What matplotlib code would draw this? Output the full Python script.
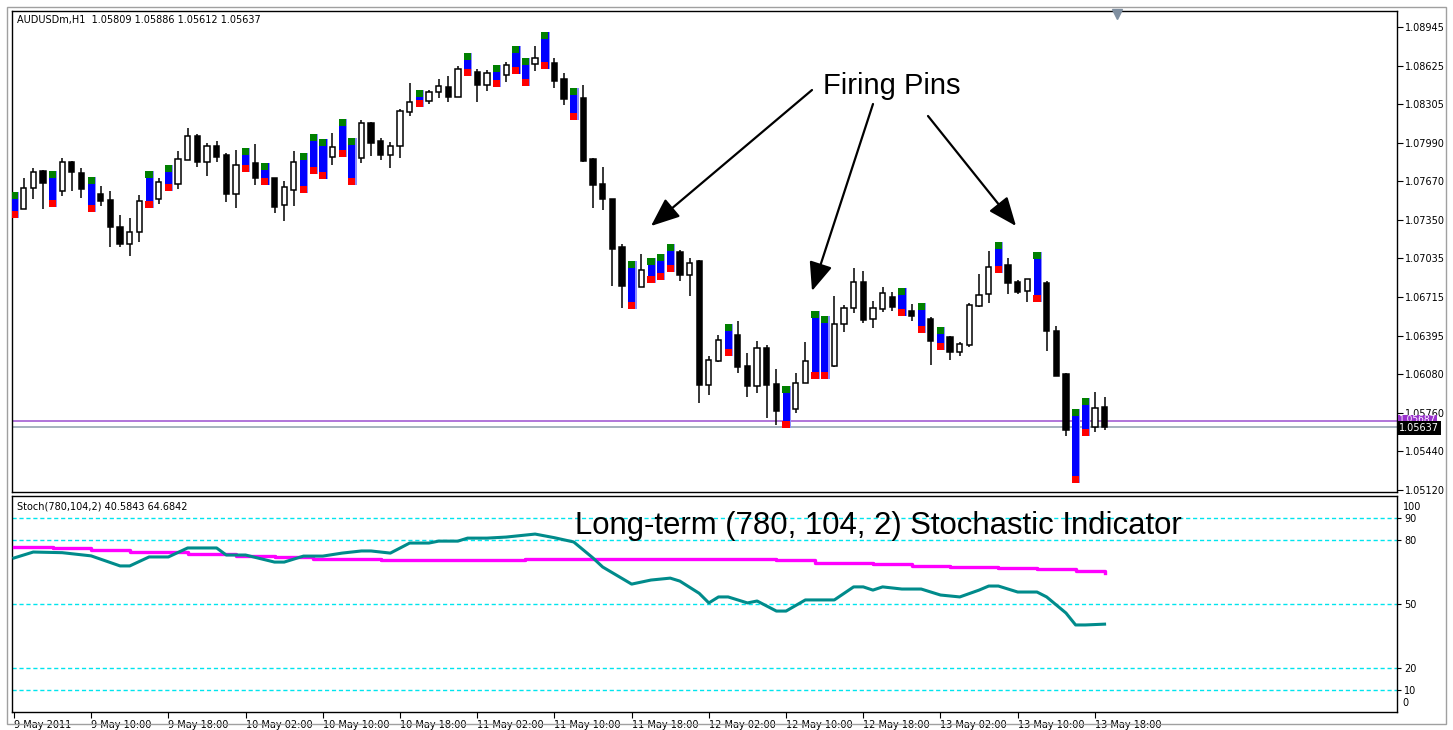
import matplotlib
matplotlib.use('Agg')
import matplotlib.pyplot as plt
import matplotlib.transforms as mtransforms
from matplotlib.patches import Rectangle

# ---- candles (AUDUSDm, H1), bar 0 = 9 May 2011 02:00 ----
opens = [1.07367, 1.07442, 1.07615, 1.07756, 1.07458, 1.07590, 1.07830, 1.07739, 1.07417, 1.07566,
         1.07516, 1.07293, 1.07153, 1.07252, 1.07450, 1.07524, 1.07590, 1.07648, 1.07846, 1.08045,
         1.07830, 1.07962, 1.07888, 1.07566, 1.07747, 1.07822, 1.07640, 1.07698, 1.07475, 1.07599,
         1.07574, 1.07731, 1.07689, 1.07871, 1.07871, 1.07640, 1.07863, 1.08152, 1.08003, 1.07888,
         1.07962, 1.08243, 1.08284, 1.08334, 1.08408, 1.08449, 1.08367, 1.08540, 1.08573, 1.08466,
         1.08449, 1.08548, 1.08557, 1.08458, 1.08639, 1.08598, 1.08648, 1.08515, 1.08177, 1.08359,
         1.07855, 1.07648, 1.07524, 1.07128, 1.06616, 1.06797, 1.06830, 1.06855, 1.06921, 1.07086,
         1.06896, 1.07012, 1.05988, 1.06186, 1.06227, 1.06401, 1.06145, 1.05980, 1.06294, 1.05996,
         1.05633, 1.05790, 1.06004, 1.06037, 1.06037, 1.06145, 1.06492, 1.06624, 1.06839, 1.06533,
         1.06616, 1.06715, 1.06558, 1.06599, 1.06417, 1.06533, 1.06277, 1.06384, 1.06260, 1.06318,
         1.06640, 1.06740, 1.06913, 1.06979, 1.06839, 1.06764, 1.06673, 1.06830, 1.06434, 1.06079,
         1.05178, 1.05567, 1.05641, 1.05809]
highs = [1.07582, 1.07698, 1.07780, 1.07764, 1.07756, 1.07863, 1.07838, 1.07780, 1.07706, 1.07632,
         1.07590, 1.07392, 1.07367, 1.07557, 1.07756, 1.07698, 1.07805, 1.07921, 1.08111, 1.08061,
         1.07987, 1.08003, 1.07904, 1.07929, 1.07946, 1.07979, 1.07822, 1.07698, 1.07673, 1.07921,
         1.07904, 1.08061, 1.08020, 1.08069, 1.08185, 1.08028, 1.08177, 1.08160, 1.08028, 1.07995,
         1.08268, 1.08482, 1.08425, 1.08425, 1.08515, 1.08540, 1.08623, 1.08730, 1.08598, 1.08590,
         1.08631, 1.08656, 1.08788, 1.08689, 1.08788, 1.08904, 1.08689, 1.08565, 1.08441, 1.08466,
         1.07863, 1.07789, 1.07524, 1.07153, 1.07012, 1.07070, 1.07037, 1.07070, 1.07153, 1.07103,
         1.07037, 1.07020, 1.06227, 1.06401, 1.06492, 1.06517, 1.06252, 1.06351, 1.06318, 1.06120,
         1.05980, 1.06087, 1.06343, 1.06599, 1.06558, 1.06723, 1.06649, 1.06954, 1.06930, 1.06682,
         1.06797, 1.06756, 1.06789, 1.06657, 1.06665, 1.06550, 1.06467, 1.06393, 1.06343, 1.06665,
         1.06905, 1.07095, 1.07169, 1.07037, 1.06855, 1.06863, 1.07086, 1.06847, 1.06475, 1.06087,
         1.05790, 1.05881, 1.05930, 1.05886]
lows = [1.07367, 1.07442, 1.07524, 1.07442, 1.07458, 1.07549, 1.07590, 1.07533, 1.07417, 1.07466,
        1.07128, 1.07128, 1.07053, 1.07169, 1.07450, 1.07483, 1.07590, 1.07607, 1.07846, 1.07789,
        1.07714, 1.07830, 1.07499, 1.07450, 1.07747, 1.07640, 1.07640, 1.07409, 1.07343, 1.07466,
        1.07574, 1.07731, 1.07689, 1.07805, 1.07871, 1.07640, 1.07822, 1.07879, 1.07846, 1.07780,
        1.07863, 1.08210, 1.08284, 1.08309, 1.08359, 1.08325, 1.08367, 1.08540, 1.08325, 1.08416,
        1.08449, 1.08491, 1.08557, 1.08458, 1.08582, 1.08598, 1.08441, 1.08301, 1.08177, 1.07830,
        1.07450, 1.07433, 1.06806, 1.06624, 1.06616, 1.06797, 1.06830, 1.06855, 1.06921, 1.06847,
        1.06723, 1.05839, 1.05905, 1.06178, 1.06227, 1.06087, 1.05889, 1.05922, 1.05715, 1.05657,
        1.05633, 1.05757, 1.06004, 1.06037, 1.06037, 1.06137, 1.06426, 1.06583, 1.06500, 1.06459,
        1.06591, 1.06599, 1.06558, 1.06517, 1.06417, 1.06153, 1.06277, 1.06194, 1.06227, 1.06302,
        1.06632, 1.06665, 1.06913, 1.06740, 1.06740, 1.06673, 1.06673, 1.06269, 1.06062, 1.05567,
        1.05178, 1.05567, 1.05600, 1.05612]
closes = [1.07582, 1.07615, 1.07747, 1.07656, 1.07756, 1.07830, 1.07747, 1.07607, 1.07706, 1.07508,
          1.07293, 1.07153, 1.07252, 1.07508, 1.07756, 1.07665, 1.07805, 1.07855, 1.08045, 1.07830,
          1.07962, 1.07871, 1.07566, 1.07805, 1.07946, 1.07698, 1.07822, 1.07458, 1.07623, 1.07830,
          1.07904, 1.08061, 1.08020, 1.07954, 1.08185, 1.08028, 1.08152, 1.07987, 1.07888, 1.07962,
          1.08251, 1.08325, 1.08425, 1.08408, 1.08458, 1.08367, 1.08598, 1.08730, 1.08466, 1.08565,
          1.08631, 1.08631, 1.08788, 1.08689, 1.08689, 1.08904, 1.08499, 1.08350, 1.08441, 1.07838,
          1.07640, 1.07524, 1.07111, 1.06806, 1.07012, 1.06938, 1.07037, 1.07070, 1.07153, 1.06896,
          1.06996, 1.05988, 1.06194, 1.06360, 1.06492, 1.06137, 1.05980, 1.06294, 1.05988, 1.05773,
          1.05980, 1.06004, 1.06186, 1.06599, 1.06558, 1.06492, 1.06624, 1.06839, 1.06525, 1.06624,
          1.06748, 1.06632, 1.06789, 1.06558, 1.06665, 1.06351, 1.06467, 1.06260, 1.06327, 1.06649,
          1.06731, 1.06963, 1.07169, 1.06830, 1.06756, 1.06863, 1.07086, 1.06434, 1.06062, 1.05616,
          1.05790, 1.05881, 1.05798, 1.05637]

# bars marked by the "firing pin" indicator
pin_bars = [0, 4, 8, 14, 16, 24, 26, 30, 31, 32, 34, 35, 42, 47, 50, 52, 53, 55, 58,
            64, 66, 67, 68, 74, 80, 83, 84, 92, 94, 96, 102, 106, 110, 111]

bid_price = 1.05637
ask_price = 1.05687

price_ticks = [1.08945, 1.08625, 1.08305, 1.07990, 1.07670, 1.07350, 1.07035,
               1.06715, 1.06395, 1.06080, 1.05760, 1.05440, 1.05120]
price_labels = ['1.08945', '1.08625', '1.08305', '1.07990', '1.07670', '1.07350', '1.07035',
                '1.06715', '1.06395', '1.06080', '1.05760', '1.05440', '1.05120']

time_ticks = [0, 8, 16, 24, 32, 40, 48, 56, 64, 72, 80, 88, 96, 104, 112]
time_labels = ['9 May 2011', '9 May 10:00', '9 May 18:00', '10 May 02:00', '10 May 10:00',
               '10 May 18:00', '11 May 02:00', '11 May 10:00', '11 May 18:00', '12 May 02:00',
               '12 May 10:00', '12 May 18:00', '13 May 02:00', '13 May 10:00', '13 May 18:00']

# Stoch(780,104,2): main line read at these bars
stoch_bars = [0, 2, 5, 8, 11, 12, 14, 16, 18, 21, 22, 24, 27, 28, 30, 32, 34, 36, 37, 39,
              41, 43, 44, 46, 47, 49, 51, 54, 56, 58, 60, 61, 64, 66, 68, 69, 71, 72, 73, 74,
              76, 77, 79, 80, 82, 85, 87, 88, 89, 90, 92, 94, 96, 98, 100, 101, 102, 104, 106,
              107, 109, 110, 111, 113]
stoch_main = [71.5, 74.3, 74.0, 72.5, 67.8, 67.8, 72.0, 72.0, 76.2, 76.2, 72.9, 72.9, 69.6, 69.6,
              72.4, 72.4, 73.8, 74.8, 74.8, 73.8, 78.5, 78.5, 79.4, 79.4, 80.8, 80.8, 81.3, 82.7,
              81.0, 79.0, 71.5, 67.3, 59.3, 61.2, 62.1, 60.7, 55.0, 50.5, 53.3, 53.3, 50.5, 51.4,
              46.7, 46.7, 51.9, 51.9, 58.0, 58.0, 56.5, 58.0, 57.0, 57.0, 54.2, 53.3, 56.5, 58.4,
              58.4, 55.6, 55.6, 53.3, 45.8, 40.2, 40.2, 40.58]
# signal line (step changes)
signal_bars = [0, 4, 8, 12, 18, 23, 27, 31, 38, 53, 79, 83, 89, 93, 97, 102, 106, 110, 113]
stoch_signal = [76.6, 76.2, 75.2, 74.3, 73.4, 72.4, 71.8, 71.0, 70.6, 71.0, 70.4, 69.2, 68.7,
                67.8, 67.3, 66.8, 66.4, 65.4, 64.68]
stoch_levels = [90, 80, 50, 20, 10]

# ---- layout in pixels ----
W, H = 1453, 730
fig = plt.figure(figsize=(W / 100, H / 100), dpi=100)
fig.patch.set_facecolor('white')


def box(l, t, r, b):
    return [l / W, 1 - b / H, (r - l) / W, (b - t) / H]


ax = fig.add_axes(box(12, 11, 1397, 492))
ax2 = fig.add_axes(box(12, 496, 1397, 712))
xlim = (-0.2, 143.3)
small = dict(family='DejaVu Sans', fontsize=7)

# window border
fig.add_artist(Rectangle((7 / W, 1 - 724 / H), (1446 - 7) / W, (724 - 7) / H,
                         transform=fig.transFigure, fill=False, edgecolor='#a0a0a0', lw=1))

# ---- candles ----
pin_set = set(pin_bars)
body_w = 0.55
for i in range(len(opens)):
    if i in pin_set:
        continue
    o, h, l, c = opens[i], highs[i], lows[i], closes[i]
    ax.vlines(i, l, h, color='black', lw=1.1, zorder=2)
    bot = min(o, c)
    hgt = max(abs(c - o), 0.00004)
    face = 'white' if c >= o else 'black'
    ax.bar(i, hgt, bottom=bot, width=body_w, color=face, edgecolor='black', lw=1.1, zorder=3)

cap = 0.00058
for i in pin_bars:
    h, l = highs[i], lows[i]
    ax.bar(i + 0.08, h - l, bottom=l, width=0.85, color='#8c8cff', lw=0, zorder=4)
    ax.bar(i + 0.02, h - l, bottom=l, width=0.74, color='#0000ff', lw=0, zorder=4)
    ax.bar(i, cap, bottom=h - cap, width=0.74, color='#008000', lw=0, zorder=5)
    ax.bar(i, cap, bottom=l, width=0.74, color='#ff0000', lw=0, zorder=5)

ax.axhline(ask_price, color='#9b4fd0', lw=1.1, zorder=1)
ax.axhline(bid_price, color='#8c9cac', lw=1.1, zorder=1)

ax.set_xlim(*xlim)
ax.set_ylim(1.05104, 1.09077)
ax.set_xticks([])
ax.yaxis.tick_right()
ax.set_yticks(price_ticks)
ax.set_yticklabels(price_labels, **small)
ax.tick_params(axis='y', length=4, width=0.8, pad=2)
for s in ax.spines.values():
    s.set_linewidth(1.0)
    s.set_color('black')

trans = mtransforms.blended_transform_factory(ax.transAxes, ax.transData)
ax.text(1.0015, ask_price + 0.00012, '1.05687', transform=trans, color='white', va='center',
        ha='left', bbox=dict(facecolor='#9932cc', edgecolor='none', pad=0.6), zorder=6,
        family='DejaVu Sans', fontsize=6.5)
ax.text(1.0015, bid_price - 0.00005, '1.05637', transform=trans, color='white', va='center',
        ha='left', bbox=dict(facecolor='black', edgecolor='none', pad=1.2), zorder=7, **small)

ax.text(0.0036, 0.992, 'AUDUSDm,H1  1.05809 1.05886 1.05612 1.05637', transform=ax.transAxes,
        va='top', ha='left', **small)
ax.plot([0.798], [0.994], marker='v', markersize=7, color='#7f8fa0', transform=ax.transAxes,
        clip_on=False, zorder=8)

# ---- stochastic panel ----
for lv in stoch_levels:
    ax2.axhline(lv, color='#00e5ee', lw=1.0, linestyle=(0, (3, 2)), zorder=1)
ax2.plot(signal_bars, stoch_signal, color='#ff00ff', lw=2.4, drawstyle='steps-post', zorder=3)
ax2.plot(stoch_bars, stoch_main, color='#008b8b', lw=2.2, zorder=4)
ax2.set_xlim(*xlim)
ax2.set_ylim(-0.5, 100.5)
ax2.yaxis.tick_right()
ax2.set_yticks(stoch_levels)
ax2.set_yticklabels([str(v) for v in stoch_levels], **small)
ax2.tick_params(axis='y', length=3, width=0.8, pad=2)
ax2.text(1.004, 0.97, '100', transform=ax2.transAxes, va='top', ha='left', **small)
ax2.text(1.004, 0.02, '0', transform=ax2.transAxes, va='bottom', ha='left', **small)
ax2.set_xticks(time_ticks)
ax2.set_xticklabels(time_labels, ha='left', **small)
ax2.tick_params(axis='x', length=4, width=0.8, pad=2)
for s in ax2.spines.values():
    s.set_linewidth(1.0)
    s.set_color('black')
ax2.text(0.0036, 0.975, 'Stoch(780,104,2) 40.5843 64.6842', transform=ax2.transAxes,
         va='top', ha='left', **small)

# ---- annotations ----
fig.text(823 / W, 1 - 86 / H, 'Firing Pins', va='center', ha='left',
         family='Liberation Sans', fontsize=21, color='black')
fig.text(575 / W, 1 - 526 / H, 'Long-term (780, 104, 2) Stochastic Indicator',
         va='center', ha='left', family='Liberation Sans', fontsize=22.4, color='black')

arrows = [((812, 90), (651, 226)),
          ((873, 104), (812, 291)),
          ((928, 116), (1016, 226)),
          ((1182, 543), (1102, 619))]
for (tx, ty), (hx, hy) in arrows:
    ax.annotate('', xy=(hx, H - hy), xytext=(tx, H - ty), xycoords='figure pixels',
                textcoords='figure pixels', annotation_clip=False,
                arrowprops=dict(arrowstyle='-|>,head_length=1.1,head_width=0.45', color='black',
                                lw=1.6, shrinkA=0, shrinkB=0, mutation_scale=16))

fig.savefig('out.png', dpi=100)
